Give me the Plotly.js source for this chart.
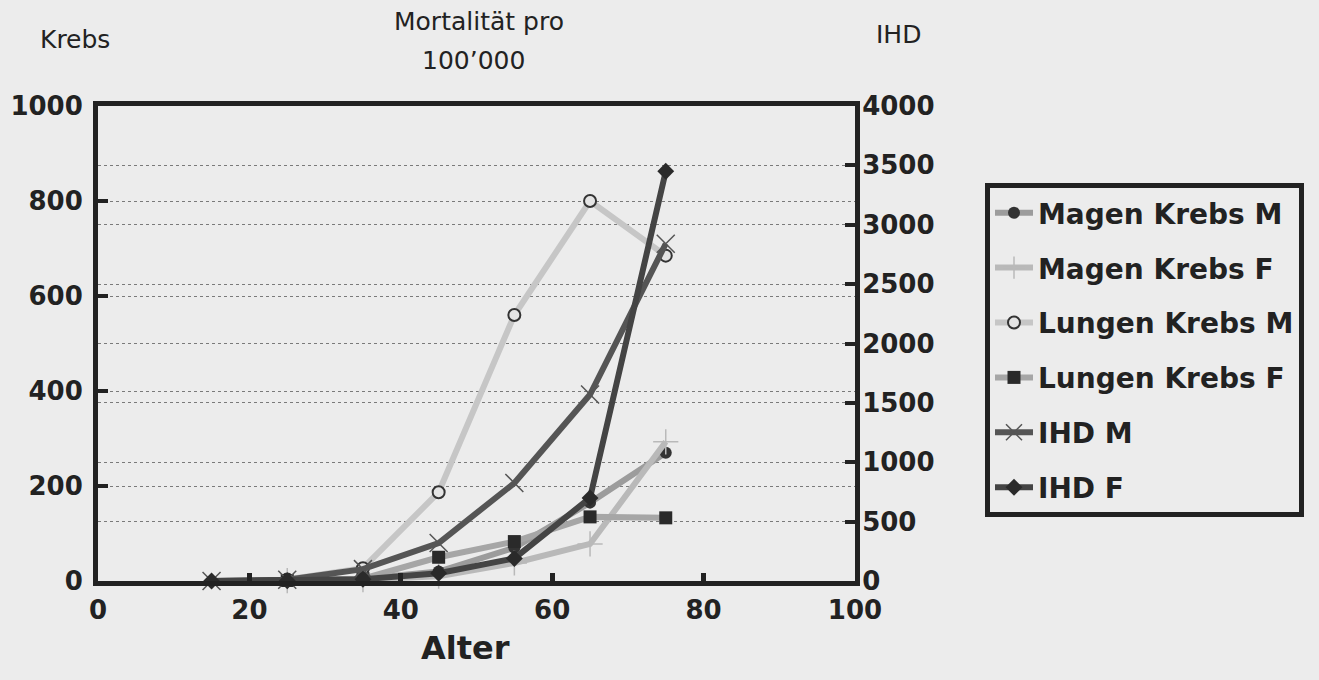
<!DOCTYPE html>
<html>
<head>
<meta charset="utf-8">
<script src="https://cdn.plot.ly/plotly-3.0.1.min.js"></script>
<style>html,body{margin:0;padding:0;background:#ececec;}#chart{width:1319px;height:680px;}</style>
</head>
<body>
<div id="chart"></div>
<script>
// Age groups (Alter)
const alter = [15, 25, 35, 45, 55, 65, 75];
const alterKrebs = [25, 35, 45, 55, 65, 75];
// Cancer mortality per 100'000 (left axis)
const magenKrebsM   = [1, 5, 20, 70, 165, 270];
const magenKrebsF   = [1, 3, 10, 38, 78, 293];
const lungenKrebsM  = [3, 27, 187, 560, 800, 685];
const lungenKrebsF  = [1, 5, 50, 83, 135, 133];
// IHD mortality per 100'000 (right axis)
const ihdM = [0, 10, 100, 320, 825, 1570, 2840];
const ihdF = [0, 2, 15, 65, 190, 700, 3450];
const seriesNames = ["Magen Krebs M", "Magen Krebs F", "Lungen Krebs M", "Lungen Krebs F", "IHD M", "IHD F"];
const xTicks = [0, 20, 40, 60, 80, 100];

const F = "DejaVu Sans, Liberation Sans, Arial, sans-serif";
const dark = "#222";

function tr(x, y, name, lineColor, marker, yaxis) {
  return {
    x: x, y: y, name: name, type: "scatter", mode: "lines+markers",
    yaxis: yaxis, legendgroup: name,
    line: {color: lineColor, width: 6},
    marker: marker, cliponaxis: false
  };
}

const data = [
  tr(alterKrebs, magenKrebsM, seriesNames[0], "#9c9c9c", {symbol: "circle", size: 12, color: "#333"}, "y"),
  tr(alterKrebs, magenKrebsF, seriesNames[1], "#b9b9b9", {symbol: "cross-thin-open", size: 18, line: {color: "#333", width: 1.5}}, "y"),
  tr(alterKrebs, lungenKrebsM, seriesNames[2], "#c6c6c6", {symbol: "circle", size: 12, color: "#e4e4e4", line: {color: "#333", width: 2}}, "y"),
  tr(alterKrebs, lungenKrebsF, seriesNames[3], "#a6a6a6", {symbol: "square", size: 13, color: "#2a2a2a"}, "y"),
  tr(alter, ihdM, seriesNames[4], "#555555", {symbol: "x-thin-open", size: 18, line: {color: "#333", width: 1.5}}, "y2"),
  tr(alter, ihdF, seriesNames[5], "#444444", {symbol: "diamond", size: 13, color: "#2a2a2a"}, "y2")
];

const L = 98, R = 855, T = 106, B = 581;
const px = v => (v - L) / (R - L);
const py = v => (B - v) / (B - T);

const layout = {
  width: 1319, height: 680,
  paper_bgcolor: "#ececec", plot_bgcolor: "#ececec",
  margin: {l: L, r: 1319 - R, t: T, b: 680 - B, pad: 0},
  font: {family: F, color: dark},
  showlegend: true,
  legend: {
    x: px(985), y: py(183), xanchor: "left", yanchor: "top",
    bgcolor: "#ececec", bordercolor: dark, borderwidth: 5,
    font: {family: F, size: 28, color: dark, weight: "bold"},
    tracegroupgap: 15.5, itemwidth: 38
  },
  xaxis: {
    range: [0, 100], tickvals: xTicks, ticktext: xTicks.map(String),
    showgrid: false, zeroline: false,
    showline: true, linewidth: 5, linecolor: dark, mirror: true,
    ticks: "inside", ticklen: 8, tickwidth: 5, tickcolor: dark,
    tickfont: {family: F, size: 26, color: dark, weight: "bold"},
    ticklabelstandoff: 2
  },
  yaxis: {
    range: [0, 1000], dtick: 200, tick0: 0,
    showgrid: true, gridcolor: "#7a7a7a", gridwidth: 1, griddash: "dot",
    zeroline: false, showline: true, linewidth: 5, linecolor: dark,
    ticks: "inside", ticklen: 10, tickwidth: 4, tickcolor: dark,
    tickfont: {family: F, size: 26, color: dark, weight: "bold"},
    ticklabelstandoff: 5
  },
  yaxis2: {
    range: [0, 4000], dtick: 500, tick0: 0, overlaying: "y", side: "right",
    showgrid: true, gridcolor: "#7a7a7a", gridwidth: 1, griddash: "dot",
    zeroline: false, showline: true, linewidth: 5, linecolor: dark,
    ticks: "inside", ticklen: 10, tickwidth: 4, tickcolor: dark,
    tickfont: {family: F, size: 26, color: dark, weight: "bold"},
    ticklabelstandoff: -3
  },
  annotations: [
    {text: "Krebs", xref: "paper", yref: "paper", x: px(75), y: py(40), xanchor: "center", yanchor: "middle", showarrow: false, font: {family: F, size: 25, color: dark}},
    {text: "Mortalität pro", xref: "paper", yref: "paper", x: px(479), y: py(22), xanchor: "center", yanchor: "middle", showarrow: false, font: {family: F, size: 25, color: dark}},
    {text: "100’000", xref: "paper", yref: "paper", x: px(473), y: py(60), xanchor: "center", yanchor: "middle", showarrow: false, font: {family: F, size: 25, color: dark}},
    {text: "IHD", xref: "paper", yref: "paper", x: px(898), y: py(34), xanchor: "center", yanchor: "middle", showarrow: false, font: {family: F, size: 25, color: dark}},
    {text: "Alter", xref: "paper", yref: "paper", x: px(465), y: py(648), xanchor: "center", yanchor: "middle", showarrow: false, font: {family: F, size: 32, color: dark, weight: "bold"}}
  ]
};

Plotly.newPlot("chart", data, layout, {displayModeBar: false, staticPlot: true});
</script>
</body>
</html>
